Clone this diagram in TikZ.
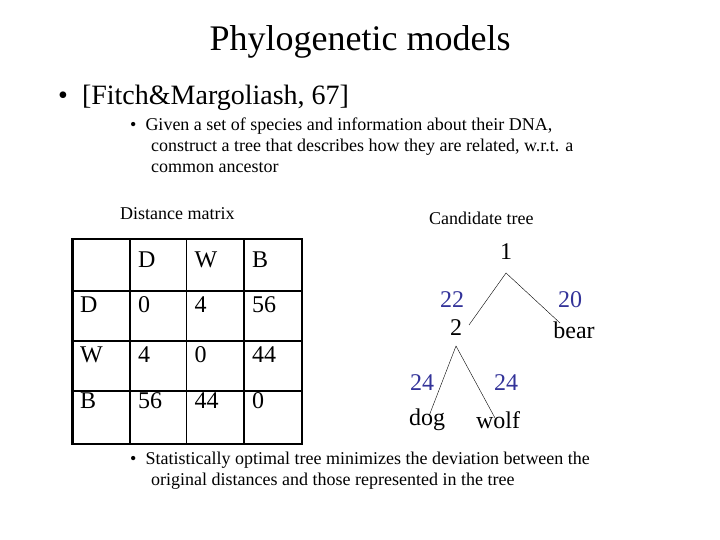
\documentclass[tikz,border=0pt]{standalone}
\usepackage{fontspec}
\setmainfont{Liberation Serif}
\begin{document}
\begin{tikzpicture}[x=1pt,y=-1pt,
  cell/.style={anchor=west,font=\fontsize{24}{24}\selectfont,inner sep=0},
  lab/.style={font=\fontsize{24}{24}\selectfont,inner sep=0},
  blab/.style={lab,text={rgb,255:red,51;green,51;blue,153}},
  sm/.style={font=\fontsize{18}{21}\selectfont,inner sep=0,anchor=west,align=left}]
\useasboundingbox (0,0) rectangle (720,540);
\node[inner sep=0,font=\fontsize{36}{36}\selectfont] (title) at (360,42) {Phylogenetic models};
\node[inner sep=0,anchor=west,font=\fontsize{28}{28}\selectfont] (b1) at (58,98) {\textbullet\ \ [Fitch\&Margoliash, 67]};
\node[sm,anchor=north west] (b2) at (130,118) {\textbullet\ \ Given a set of species and information about their DNA,\\
\hspace{21pt}construct a tree that describes how they are related, w.r.t. a\\
\hspace{21pt}common ancestor};
\node[sm] (dm) at (120,214) {Distance matrix};
\node[sm] (ct) at (429,218) {Candidate tree};
% table
\draw[line width=2.5pt] (72.5,239) rectangle (302,444);
\foreach \x in {130,186.5,244} \draw[line width=1.5pt] (\x,239) -- (\x,444);
\foreach \y in {291,341,391} \draw[line width=1.5pt] (72.5,\y) -- (302,\y);
\foreach \t [count=\i] in {D,W,B} {
  \node[cell] at ({\i==1?138:(\i==2?194.5:252)},260) {\t};}
\node[cell] at (80,305) {D};\node[cell] at (138,305) {0};\node[cell] at (194.5,305) {4};\node[cell] at (252,305) {56};
\node[cell] at (80,355) {W};\node[cell] at (138,355) {4};\node[cell] at (194.5,355) {0};\node[cell] at (252,355) {44};
\node[cell] at (80,401) {B};\node[cell] at (138,401) {56};\node[cell] at (194.5,401) {44};\node[cell] at (252,401) {0};
% tree
\node[lab] (n1) at (506,252) {1};
\node[lab] (n2) at (456,328) {2};
\node[lab] (bear) at (574,330) {bear};
\node[lab] (dog) at (427,420) {dog};
\node[lab] (wolf) at (498,420) {wolf};
\coordinate (a1) at (506,273);
\coordinate (a2) at (456,346);
\coordinate (e1) at (469,325);
\coordinate (e2) at (560,323);
\coordinate (e3) at (429,416);
\coordinate (e4) at (495,418);
\draw[thin] (e1) -- (a1) -- (e2);
\draw[thin] (e3) -- (a2) -- (e4);
\node[blab] at (452,300) {22};
\node[blab] at (570,300) {20};
\node[blab] at (422,383) {24};
\node[blab] at (506,383) {24};
\node[sm,anchor=north west] (b3) at (130,452) {\textbullet\ \ Statistically optimal tree minimizes the deviation between the\\
\hspace{21pt}original distances and those represented in the tree};
\end{tikzpicture}
\end{document}
